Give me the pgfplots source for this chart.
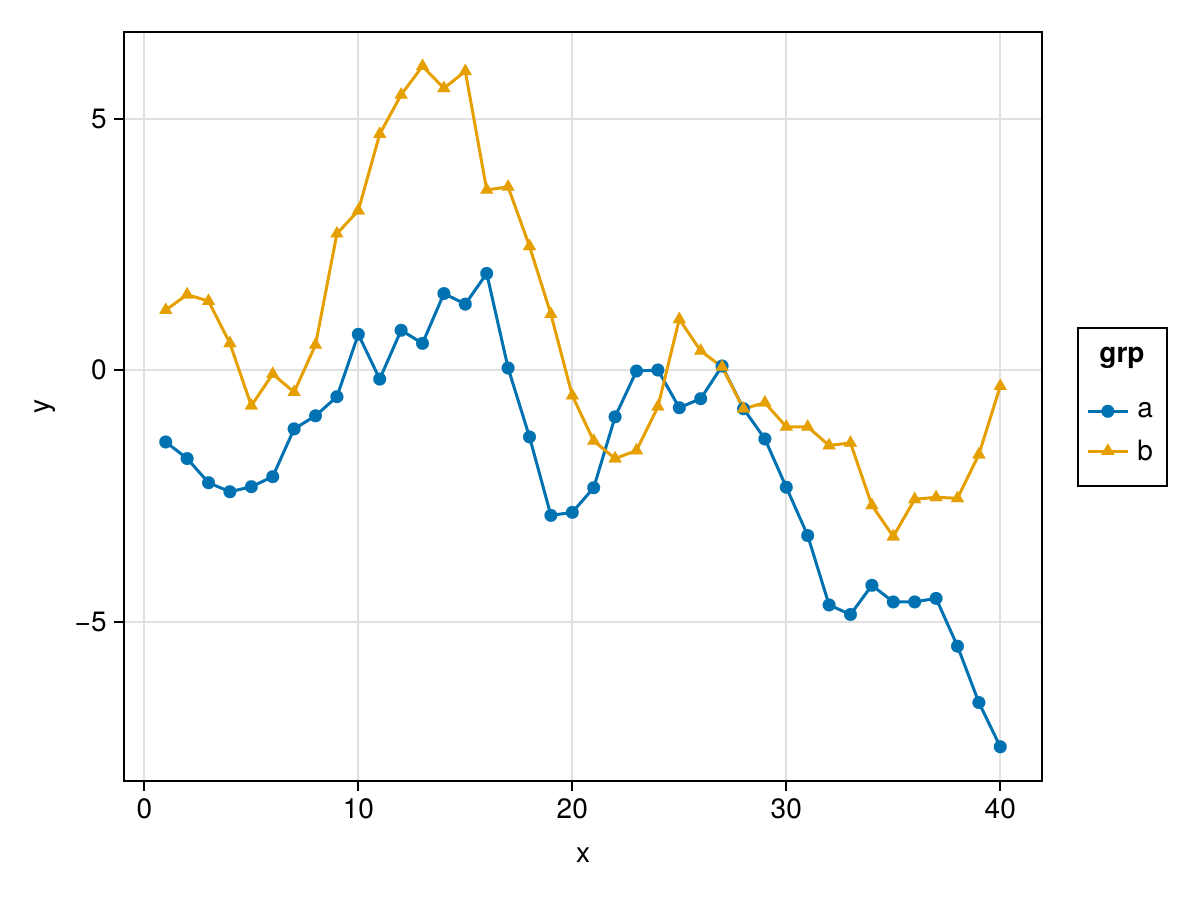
\documentclass[border=0pt]{standalone}
\usepackage{fontspec}
\setmainfont{TeX Gyre Heros}
\usepackage{pgfplots}
\pgfplotsset{compat=1.18}
\definecolor{mkblue}{RGB}{0,114,178}
\definecolor{mkorange}{RGB}{230,159,0}
\newcommand\fs{\fontsize{21}{25}\selectfont}
\begin{document}
\begin{tikzpicture}
\path[use as bounding box] (0,0) rectangle (900pt,675pt);
\begin{axis}[
  at={(93pt,89.25pt)}, anchor=south west,
  scale only axis, width=688.5pt, height=561.75pt,
  xmin=-0.95, xmax=41.95, ymin=-8.17, ymax=6.72,
  xtick={0,10,20,30,40}, ytick={-5,0,5}, yticklabels={−5,0,5},
  grid=major, major grid style={line width=1.5pt, black!12},
  axis line style={line width=1.5pt},
  tick style={line width=1.5pt, black},
  tick align=outside, major tick length=7.5pt,
  xtick pos=bottom, ytick pos=left,
  /pgf/number format/assume math mode=true,
  tick label style={font=\fs},
  xticklabel style={yshift=-2pt},
  yticklabel style={xshift=-2pt},
  xlabel={x}, ylabel={y},
  xlabel style={font=\fs, anchor=center, at={(axis description cs:0.5,-0.0988)}},
  ylabel style={font=\fs, anchor=center, rotate=0, at={(axis description cs:-0.0861,0.5)}},
  clip=false,
  legend style={draw=none, fill=none, font=\fs, at={(axis description cs:1.0480,0.4653)}, anchor=west, row sep=11pt, column sep=4pt, inner sep=0pt, nodes={inner sep=2pt}},
  legend cell align=left,
  legend image code/.code={\draw[mark repeat=2,mark phase=2,#1] plot coordinates {(0pt,0pt) (15pt,0pt) (30pt,0pt)};},
]
\addplot[mkblue, line width=2.25pt, mark=*, mark size=4.8pt, mark options={solid, fill=mkblue, draw=mkblue, line width=0.1pt}] coordinates {
(1,-1.43) (2,-1.76) (3,-2.24) (4,-2.42) (5,-2.32) (6,-2.12) (7,-1.17) (8,-0.91) (9,-0.53) (10,0.71)
(11,-0.18) (12,0.79) (13,0.53) (14,1.52) (15,1.31) (16,1.92) (17,0.04) (18,-1.33) (19,-2.89) (20,-2.83)
(21,-2.34) (22,-0.93) (23,-0.02) (24,0.00) (25,-0.75) (26,-0.57) (27,0.08) (28,-0.77) (29,-1.37) (30,-2.33)
(31,-3.29) (32,-4.67) (33,-4.86) (34,-4.28) (35,-4.61) (36,-4.61) (37,-4.54) (38,-5.49) (39,-6.61) (40,-7.49)
};
\addlegendentry{a}
\addplot[mkorange, line width=2.25pt, mark=triangle*, mark size=5.6pt, mark options={solid, fill=mkorange, draw=mkorange, line width=0.1pt}] coordinates {
(1,1.19) (2,1.50) (3,1.37) (4,0.53) (5,-0.71) (6,-0.08) (7,-0.44) (8,0.50) (9,2.71) (10,3.17)
(11,4.69) (12,5.47) (13,6.04) (14,5.60) (15,5.94) (16,3.58) (17,3.64) (18,2.46) (19,1.11) (20,-0.51)
(21,-1.41) (22,-1.76) (23,-1.60) (24,-0.73) (25,1.01) (26,0.38) (27,0.06) (28,-0.77) (29,-0.65) (30,-1.13)
(31,-1.13) (32,-1.50) (33,-1.45) (34,-2.69) (35,-3.31) (36,-2.57) (37,-2.53) (38,-2.55) (39,-1.68) (40,-0.32)
};
\addlegendentry{b}
\draw[line width=1.5pt] (axis description cs:1.0392,0.3939) rectangle (axis description cs:1.1362,0.6048);
\node[font=\fs\bfseries, anchor=center] at (axis description cs:1.0871,0.5648) {grp};
\end{axis}
\end{tikzpicture}
\end{document}
